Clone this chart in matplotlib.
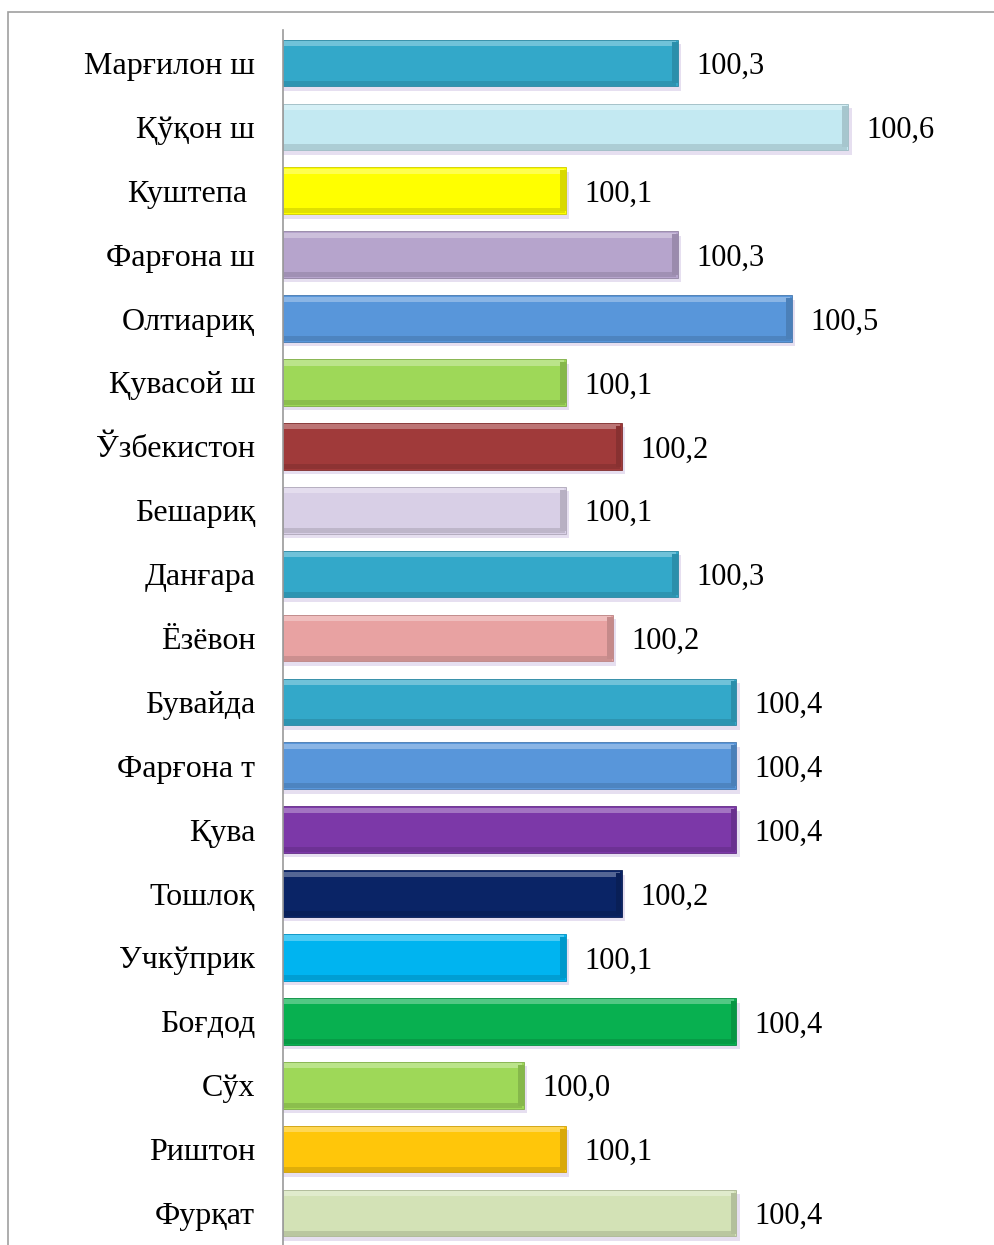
import numpy as np
import matplotlib.pyplot as plt
import matplotlib.colors as mcolors
from matplotlib.patches import Rectangle

plt.rcParams['font.family'] = ['Liberation Serif', 'DejaVu Serif']

# Данные
tumanlar = ["Марғилон ш", "Қўқон ш", "Куштепа ", "Фарғона ш", "Олтиариқ",
            "Қувасой ш", "Ўзбекистон", "Бешариқ", "Данғара", "Ёзёвон",
            "Бувайда", "Фарғона т", "Қува", "Тошлоқ", "Учкўприк",
            "Боғдод", "Сўх", "Риштон", "Фурқат"]
qiymat = [100.285, 100.6, 100.078, 100.285, 100.496,
          100.078, 100.181, 100.078, 100.285, 100.165,
          100.393, 100.393, 100.393, 100.181, 100.078,
          100.393, 100.0, 100.078, 100.393]
ranglar = ["#33A8C9", "#C3E9F2", "#FFFF00", "#B6A4CC", "#5896DA",
           "#9ED858", "#A03A3A", "#D8CFE6", "#33A8C9", "#E8A2A2",
           "#33A8C9", "#5896DA", "#7C38A8", "#0A2466", "#00B4F0",
           "#08B050", "#9ED858", "#FFC60A", "#D3E2B6"]

asos = 99.554
xmax = 100.851

def aralash(c, k, t):
    c = np.array(mcolors.to_rgb(c))
    return tuple(c * (1 - t) + np.array(k) * t)

fig = plt.figure(figsize=(9.94, 12.45), dpi=100)
fig.patches.append(Rectangle((8/994, -0.01), 1.0, (1245-12)/1245 + 0.01,
                             transform=fig.transFigure, fill=False,
                             edgecolor="#A0A0A0", linewidth=1.2))

ax = fig.add_axes([283/994, 0, (984-283)/994, 1215/1245])
y = np.arange(len(tumanlar))
h = 0.73
en = np.array(qiymat) - asos

# soya
ax.barh(y + 0.07, en + 0.006, height=h, left=asos, color="#E6DFF0", zorder=1)
# asosiy ustunlar
ax.barh(y, en, height=h, left=asos, color=ranglar, zorder=2,
        edgecolor=[aralash(c, (0, 0, 0), 0.2) for c in ranglar], linewidth=0.6)
# yuqori yorug' chiziq
ax.barh(y - h/2 + 0.06, en - 0.006, height=0.08, left=asos + 0.002,
        color=[aralash(c, (1, 1, 1), 0.3) for c in ranglar], zorder=3)
# pastki qorong'i chiziq
ax.barh(y + h/2 - 0.05, en - 0.004, height=0.08, left=asos + 0.001,
        color=[aralash(c, (0, 0, 0), 0.12) for c in ranglar], zorder=3)
# o'ng chekka
ax.barh(y, 0.01, height=h * 0.88, left=np.array(qiymat) - 0.011,
        color=[aralash(c, (0, 0, 0), 0.15) for c in ranglar], zorder=4)

for yi, v in zip(y, qiymat):
    ax.text(v + 0.034, yi, f"{v:.1f}".replace(".", ","), ha="left",
            va="center_baseline", fontsize=22, color="black")

ax.set_xlim(asos, xmax)
ax.set_ylim(18.5, -0.516)
ax.set_yticks(y)
ax.set_yticklabels(tumanlar, fontsize=23)
ax.tick_params(axis="y", length=0, pad=20)
ax.set_xticks([])
for s in ["top", "right", "bottom"]:
    ax.spines[s].set_visible(False)
ax.spines["left"].set_color("#9A9A9A")
ax.spines["left"].set_linewidth(1.2)
ax.spines["left"].set_zorder(5)

fig.savefig("out.png", dpi=100)
